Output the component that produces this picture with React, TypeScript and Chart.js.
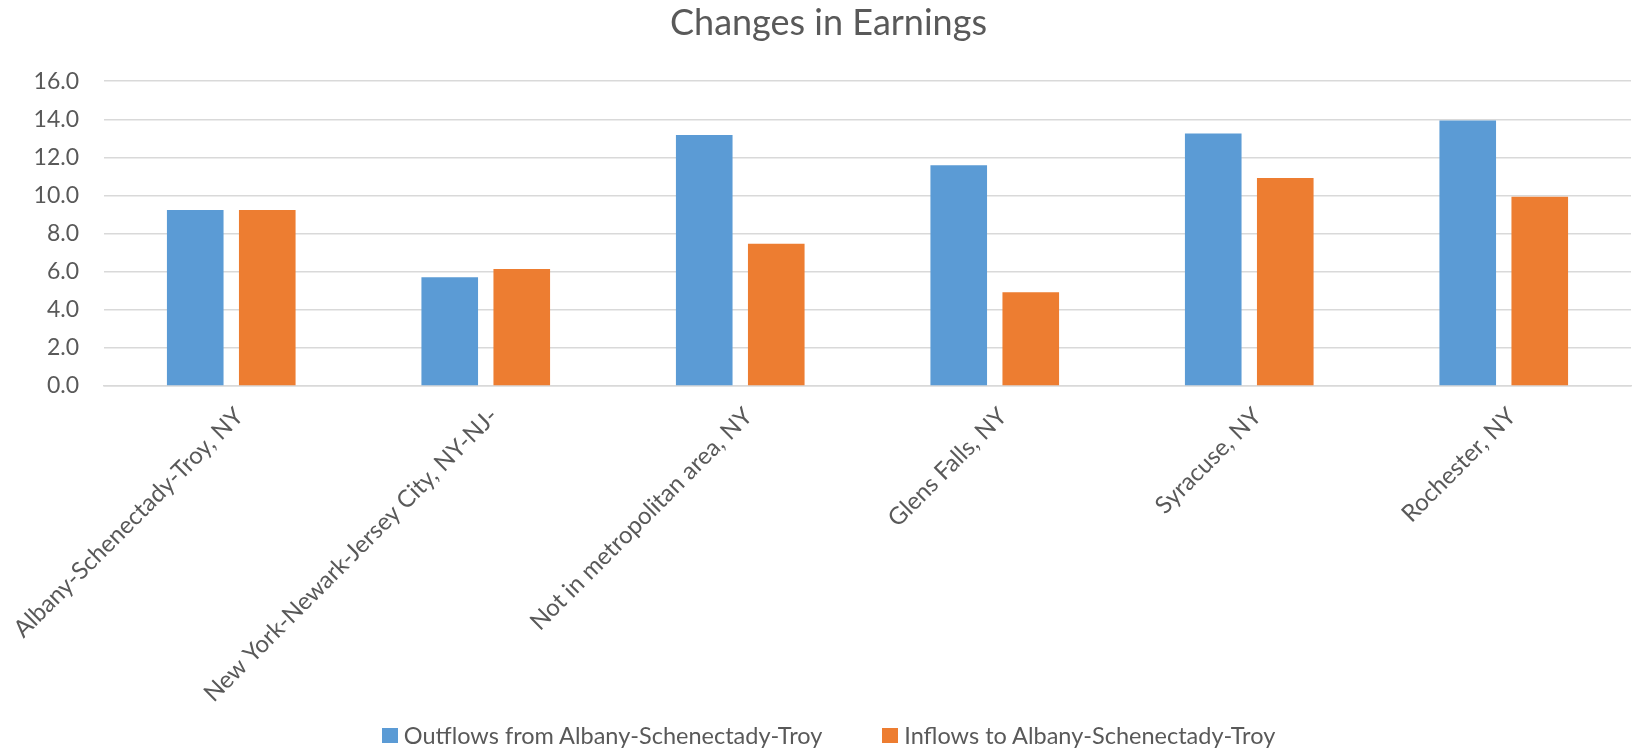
import React, { useEffect, useRef } from "react";
import { Chart, registerables } from "chart.js";

Chart.register(...registerables);

const categories = [
  "Albany-Schenectady-Troy, NY",
  "New York-Newark-Jersey City, NY-NJ-",
  "Not in metropolitan area, NY",
  "Glens Falls, NY",
  "Syracuse, NY",
  "Rochester, NY",
];
const outflows = [9.24, 5.71, 13.17, 11.59, 13.25, 13.94];
const inflows = [9.24, 6.14, 7.47, 4.92, 10.92, 9.93];
const seriesNames = ["Outflows from Albany-Schenectady-Troy", "Inflows to Albany-Schenectady-Troy"];
const seriesColors = ["#5B9BD5", "#ED7D31"];
const titleText = "Changes in Earnings";

const FONT = "Lato, 'Open Sans', sans-serif";
const TEXT = "#595959";

export default function App() {
  const ref = useRef<HTMLCanvasElement | null>(null);

  useEffect(() => {
    document.body.style.margin = "0";
    const canvas = ref.current;
    if (!canvas) return;
    const chart = new Chart(canvas, {
      type: "bar",
      data: {
        labels: categories,
        datasets: [
          { label: seriesNames[0], data: outflows, backgroundColor: seriesColors[0], borderWidth: 0 },
          { label: seriesNames[1], data: inflows, backgroundColor: seriesColors[1], borderWidth: 0 },
        ],
      },
      options: {
        animation: false,
        responsive: false,
        maintainAspectRatio: false,
        datasets: { bar: { categoryPercentage: 0.566, barPercentage: 0.786 } },
        layout: { padding: { left: 26, right: 6, top: 0, bottom: 20 } },
        plugins: {
          legend: { display: false },
          tooltip: { enabled: false },
          title: {
            display: true,
            text: titleText,
            color: TEXT,
            font: { family: FONT, size: 36, weight: "normal", lineHeight: 1.2 },
            padding: { top: 2, bottom: 36 },
          },
        },
        scales: {
          x: {
            grid: { display: false, drawTicks: false },
            border: { display: true, color: "#D9D9D9", width: 1.5 },
            ticks: {
              color: TEXT,
              font: { family: FONT, size: 24 },
              minRotation: 45,
              maxRotation: 45,
              autoSkip: false,
              padding: 16,
              labelOffset: 8,
            },
            afterFit: (scale: any) => {
              scale.height = 343;
              scale.paddingLeft = 0;
              scale.paddingRight = 0;
            },
          },
          y: {
            min: 0,
            max: 16,
            grid: { color: "#D9D9D9", lineWidth: 1.5, drawTicks: false },
            border: { display: false },
            ticks: {
              stepSize: 2,
              color: TEXT,
              font: { family: FONT, size: 23 },
              padding: 25,
              callback: (v: any) => Number(v).toFixed(1),
            },
            afterFit: (scale: any) => {
              scale.width = 78;
            },
          },
        },
      },
    });
    return () => chart.destroy();
  }, []);

  return (
    <div style={{ position: "relative", width: 1637, height: 749, background: "#fff" }}>
      <canvas ref={ref} width={1637} height={749} style={{ display: "block" }} />
      <div
        style={{
          position: "absolute",
          left: 20,
          right: 0,
          top: 720,
          display: "flex",
          justifyContent: "center",
          alignItems: "center",
          gap: 60,
          fontFamily: FONT,
          fontSize: 23.5,
          color: TEXT,
          lineHeight: "30px",
        }}
      >
        {seriesNames.map((n, i) => (
          <div key={n} style={{ display: "flex", alignItems: "center", gap: 6 }}>
            <span style={{ display: "inline-block", width: 16, height: 15, background: seriesColors[i] }} />
            <span>{n}</span>
          </div>
        ))}
      </div>
    </div>
  );
}
